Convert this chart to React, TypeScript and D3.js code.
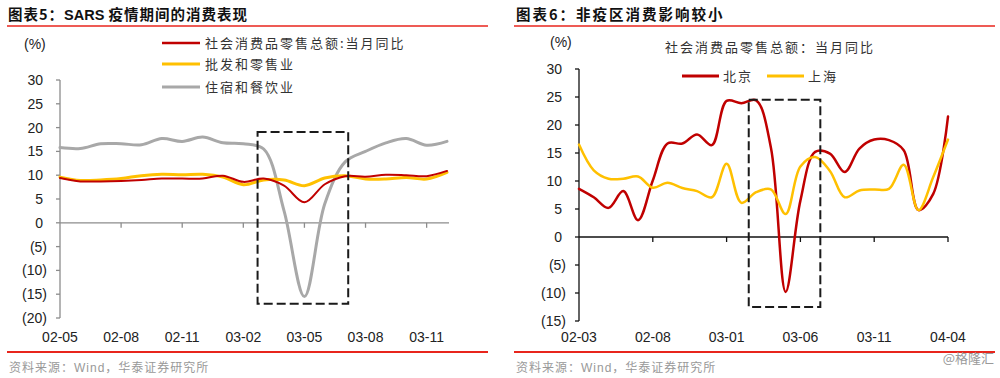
import React from "react";
import * as d3 from "d3";

// ---------- Left chart data (monthly 2002-05 .. 2003-12) ----------
const leftMonths = [
  "02-05","02-06","02-07","02-08","02-09","02-10","02-11","02-12","03-01","03-02",
  "03-03","03-04","03-05","03-06","03-07","03-08","03-09","03-10","03-11","03-12",
];
const retailTotal = [9.4,8.7,8.7,8.8,9.0,9.3,9.3,9.3,9.9,8.6,9.3,7.8,4.3,8.1,9.8,9.7,10.1,10.0,9.8,10.9];
const wholesaleRetail = [9.6,8.9,9.0,9.3,9.9,10.2,10.1,10.2,9.6,8.0,9.0,9.0,7.8,9.4,9.9,9.2,9.2,9.5,9.2,10.6];
const hotelCatering = [15.8,15.6,16.6,16.6,16.4,17.7,17.1,18.0,16.8,16.6,15.5,2.5,-15.5,4.0,12.8,15.0,16.8,17.7,16.3,17.1];
const leftTicks = [-20,-15,-10,-5,0,5,10,15,20,25,30];
const leftLegend = ["社会消费品零售总额:当月同比","批发和零售业","住宿和餐饮业"];
const leftBox = { from: 9.7, to: 14.15, low: -17, high: 19.1 };

// ---------- Right chart data (monthly 2002-03 .. 2004-04) ----------
const rightMonths = [
  "02-03","02-04","02-05","02-06","02-07","02-08","02-09","02-10","02-11","02-12",
  "03-01","03-02","03-03","03-04","03-05","03-06","03-07","03-08","03-09","03-10",
  "03-11","03-12","04-01","04-02","04-03","04-04",
];
const beijing = [8.6,7.1,5.2,8.2,3.0,10.1,16.7,16.7,18.3,16.4,24.3,23.9,24.4,16.0,-9.8,6.5,15.2,14.9,11.6,15.8,17.4,17.3,15.5,4.8,7.7,21.5];
const shanghai = [16.5,11.9,10.4,10.4,10.8,8.8,9.7,8.75,8.2,7.1,13.1,6.1,8.0,8.5,4.1,12.6,14.3,11.8,7.1,8.3,8.5,8.6,12.9,4.8,10.7,17.4];
const rightTicks = [-15,-10,-5,0,5,10,15,20,25,30];
const rightLegendTitle = "社会消费品零售总额：当月同比";
const rightLegend = ["北京","上海"];
const rightBox = { from: 11.5, to: 16.35, low: -12.5, high: 24.5 };

const RED = "#C00000";
const GOLD = "#FFC000";
const GRAY = "#A8A8A8";
const RULE = "#E8251C";
const NUM_FONT = "'Liberation Sans', Arial, sans-serif";
const CJK_FONT = "'Noto Sans CJK SC', sans-serif";

function fmt(v: number) {
  return v < 0 ? `(${Math.abs(v)})` : `${v}`;
}

function Panel(props: {
  months: string[];
  series: { values: number[]; color: string; width: number }[];
  ticks: number[];
  xRange: [number, number];
  yRange: [number, number];
  labelEvery: number;
  axisColor: string;
  box: { from: number; to: number; low: number; high: number };
  axisEndPad: number;
}) {
  const { months, series, ticks, xRange, yRange, labelEvery, axisColor, box, axisEndPad } = props;
  const n = months.length;
  const x = d3.scaleLinear().domain([0, n - 1]).range(xRange);
  const y = d3.scaleLinear().domain([ticks[0], ticks[ticks.length - 1]]).range(yRange);
  const line = d3
    .line<number>()
    .x((_, i) => x(i))
    .y((d) => y(d))
    .curve(d3.curveCatmullRom.alpha(0.5));
  const x0 = xRange[0];
  const y0 = y(0);
  const idx = months.map((_, i) => i).filter((i) => i % labelEvery === 0);
  return (
    <g>
      {/* y axis */}
      <line x1={x0} x2={x0} y1={y(ticks[ticks.length - 1])} y2={y(ticks[0])} stroke={axisColor} strokeWidth={1.3} />
      {ticks.map((t) => (
        <g key={t}>
          <line x1={x0 - 4} x2={x0} y1={y(t)} y2={y(t)} stroke={axisColor} strokeWidth={1.3} />
          <text
            x={t < 0 ? x0 - 13 : x0 - 17}
            y={y(t)}
            dy="0.35em"
            textAnchor="end"
            fontFamily={NUM_FONT}
            fontSize={14}
            fill="#222"
          >
            {fmt(t)}
          </text>
        </g>
      ))}
      {/* x axis at zero */}
      <line x1={x0} x2={x(n - 1) + axisEndPad} y1={y0} y2={y0} stroke={axisColor} strokeWidth={1.3} />
      {idx.filter((i) => i > 0).map((i) => (
        <line key={i} x1={x(i)} x2={x(i)} y1={y0} y2={y0 + 5} stroke={axisColor} strokeWidth={1.3} />
      ))}
      {idx.map((i) => (
        <text key={i} x={x(i)} y={337} dy="0.35em" textAnchor="middle" fontFamily={NUM_FONT} fontSize={14} fill="#222">
          {months[i]}
        </text>
      ))}
      {series.map((s, k) => (
        <path key={k} d={line(s.values) || ""} fill="none" stroke={s.color} strokeWidth={s.width} strokeLinejoin="round" strokeLinecap="round" />
      ))}
      <rect
        x={x(box.from)}
        y={y(box.high)}
        width={x(box.to) - x(box.from)}
        height={y(box.low) - y(box.high)}
        fill="none"
        stroke="#1a1a1a"
        strokeWidth={2}
        strokeDasharray="9,4"
      />
    </g>
  );
}

export default function App() {
  return (
    <svg width={1000} height={378} style={{ position: "absolute", left: 0, top: 0, background: "#fff" }}>
      <rect width={1000} height={378} fill="#fff" />
      {/* Titles */}
      <text x={8} y={15} dy="0.35em" fontFamily={CJK_FONT} fontWeight="bold" fontSize={14.5} letterSpacing={1} fill="#111">
        图表5：<tspan fontFamily="'Liberation Sans', Arial, sans-serif" letterSpacing={0}>SARS </tspan>疫情期间的消费表现
      </text>
      <text x={516} y={15} dy="0.35em" fontFamily={CJK_FONT} fontWeight="bold" fontSize={14.5} letterSpacing={2} fill="#111">
        图表6：非疫区消费影响较小
      </text>
      <line x1={7} x2={488} y1={26} y2={26} stroke={RULE} strokeWidth={1.5} />
      <line x1={514} x2={995} y1={26} y2={26} stroke={RULE} strokeWidth={1.5} />
      <line x1={7} x2={488} y1={352} y2={352} stroke={RULE} strokeWidth={2} />
      <line x1={514} x2={995} y1={352} y2={352} stroke={RULE} strokeWidth={2} />

      {/* (%) labels */}
      <text x={24} y={44} dy="0.35em" fontFamily={NUM_FONT} fontSize={14} fill="#222">(%)</text>
      <text x={550} y={42} dy="0.35em" fontFamily={NUM_FONT} fontSize={14} fill="#222">(%)</text>

      {/* Left legend */}
      {leftLegend.map((label, i) => {
        const c = [RED, GOLD, GRAY][i];
        const yy = [43, 64, 87][i];
        return (
          <g key={label}>
            <line x1={162} x2={200} y1={yy} y2={yy} stroke={c} strokeWidth={i === 0 ? 2.5 : 3} />
            <text x={205} y={yy} dy="0.35em" fontFamily={CJK_FONT} fontSize={13} letterSpacing={2} fill="#333">
              {label}
            </text>
          </g>
        );
      })}

      {/* Right legend */}
      <text x={770} y={47} dy="0.35em" textAnchor="middle" fontFamily={CJK_FONT} fontSize={13} letterSpacing={2} fill="#333">
        {rightLegendTitle}
      </text>
      {rightLegend.map((label, i) => {
        const c = [RED, GOLD][i];
        const lx = [682, 767][i];
        return (
          <g key={label}>
            <line x1={lx} x2={lx + 37} y1={76} y2={76} stroke={c} strokeWidth={3} />
            <text x={lx + 41} y={76} dy="0.35em" fontFamily={CJK_FONT} fontSize={13} letterSpacing={2} fill="#333">
              {label}
            </text>
          </g>
        );
      })}

      <Panel
        months={leftMonths}
        series={[
          { values: hotelCatering, color: GRAY, width: 3 },
          { values: wholesaleRetail, color: GOLD, width: 3 },
          { values: retailTotal, color: RED, width: 2 },
        ]}
        ticks={leftTicks}
        xRange={[60, 447]}
        yRange={[318, 80]}
        labelEvery={3}
        axisColor="#8c8c8c"
        box={leftBox}
        axisEndPad={2}
      />
      <Panel
        months={rightMonths}
        series={[
          { values: beijing, color: RED, width: 2.5 },
          { values: shanghai, color: GOLD, width: 2.5 },
        ]}
        ticks={rightTicks}
        xRange={[579, 948]}
        yRange={[321, 69]}
        labelEvery={5}
        axisColor="#111"
        box={rightBox}
        axisEndPad={0}
      />

      {/* Footnotes */}
      <text x={9} y={368} dy="0.35em" fontFamily={CJK_FONT} fontSize={12} letterSpacing={1} fill="#999">
        资料来源：<tspan fontFamily={NUM_FONT}>Wind</tspan>，华泰证券研究所
      </text>
      <text x={516} y={368} dy="0.35em" fontFamily={CJK_FONT} fontSize={12} letterSpacing={1} fill="#999">
        资料来源：<tspan fontFamily={NUM_FONT}>Wind</tspan>，华泰证券研究所
      </text>
      <text x={994} y={358} dy="0.35em" textAnchor="end" fontFamily={CJK_FONT} fontSize={13} fill="#999">
        @格隆汇
      </text>
    </svg>
  );
}
